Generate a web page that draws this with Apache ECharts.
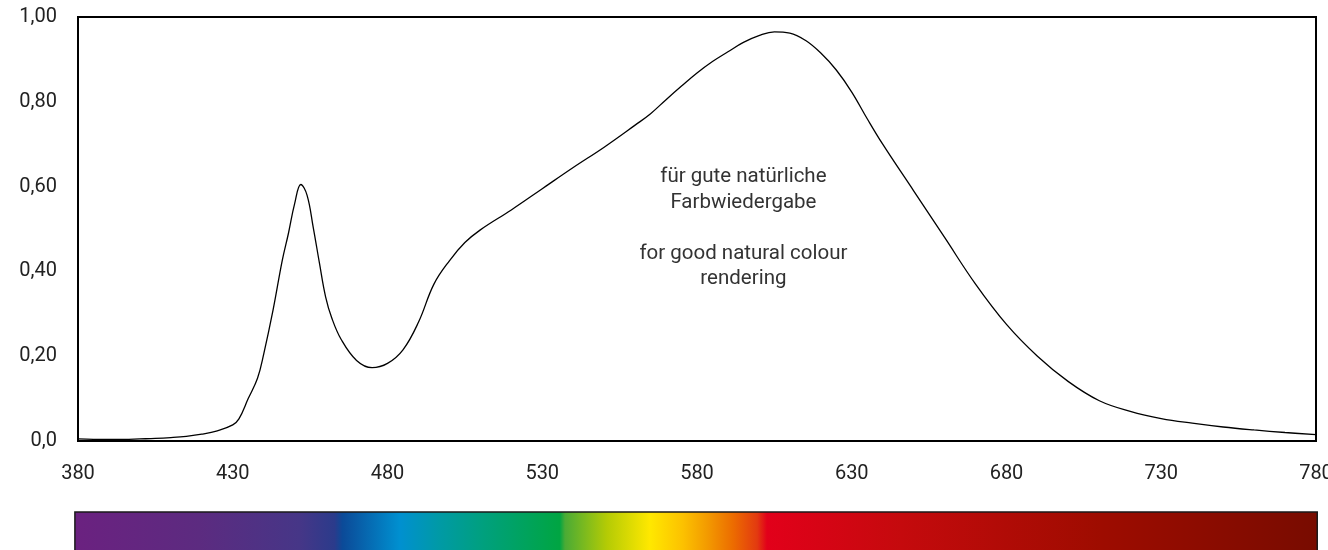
<!DOCTYPE html>
<html>
<head>
<meta charset="utf-8">
<script src="https://cdn.jsdelivr.net/npm/echarts@6/dist/echarts.min.js"></script>
<style>
  html, body { margin: 0; padding: 0; background: #fff; }
  #chart { width: 1328px; height: 550px; }
</style>
</head>
<body>
<div id="chart"></div>
<script>
// Relative spectral power distribution (wavelength in nm, relative intensity)
const wavelengths = [380, 385, 390, 395, 400, 405, 410, 415, 420, 425, 430, 432, 435, 438, 440, 443, 446, 448, 450, 452, 454, 456, 458, 460, 462, 465, 470, 475, 480, 485, 490, 495, 500, 505, 510, 520, 530, 540, 550, 560, 565, 570, 575, 580, 585, 590, 595, 600, 605, 610, 615, 620, 625, 630, 635, 640, 650, 660, 670, 680, 690, 700, 710, 720, 730, 740, 750, 760, 770, 780];
const intensity   = [0.005, 0.004, 0.004, 0.004, 0.005, 0.006, 0.008, 0.011, 0.016, 0.024, 0.038, 0.052, 0.10, 0.148, 0.205, 0.308, 0.426, 0.49, 0.56, 0.605, 0.58, 0.504, 0.42, 0.34, 0.29, 0.24, 0.19, 0.173, 0.183, 0.215, 0.28, 0.37, 0.425, 0.468, 0.498, 0.545, 0.595, 0.645, 0.693, 0.745, 0.772, 0.805, 0.837, 0.868, 0.895, 0.918, 0.94, 0.956, 0.965, 0.962, 0.945, 0.915, 0.875, 0.823, 0.76, 0.70, 0.59, 0.48, 0.37, 0.275, 0.20, 0.14, 0.095, 0.07, 0.053, 0.042, 0.033, 0.026, 0.02, 0.015];

// Colour band under the axis: wavelength (nm) -> colour
const bandWavelengths = [379, 419.4, 451.7, 463.0, 465.6, 484.0, 497.0, 510.9, 535.7, 537.4, 550.9, 564.8, 575.5, 583.2, 591.6, 599.4, 602.6, 645.6, 710.2, 780.4];
const bandColors = ['#6b2180', '#5c2b80', '#463687', '#2b3b8b', '#0b4a98', '#0090d0', '#009aa5', '#00a07e', '#00a542', '#4aab35', '#b4cb05', '#ffe800', '#fcc100', '#f39b00', '#ec6c00', '#e33a10', '#e2001a', '#c50a0d', '#9e0c00', '#780c00'];

const xTicks = { min: 380, max: 780, step: 50 };
const yTicks = { min: 0, max: 1, step: 0.2 };
const noteLines = ['für gute natürliche', 'Farbwiedergabe', '', 'for good natural colour', 'rendering'];

const FONT = 'Roboto, "Noto Sans", sans-serif';
const chart = echarts.init(document.getElementById('chart'));

const option = {
  animation: false,
  grid: {
    left: 78, right: 12, top: 17, bottom: 109,
    outerBoundsMode: 'none', containLabel: false,
    show: true, borderColor: '#000', borderWidth: 2, backgroundColor: 'transparent'
  },
  xAxis: {
    type: 'value', min: xTicks.min, max: xTicks.max, interval: xTicks.step,
    axisLine: { show: true, lineStyle: { color: '#000', width: 2 } },
    axisTick: { show: false },
    splitLine: { show: false },
    axisLabel: { color: '#222', fontSize: 20, fontFamily: FONT, margin: 23 }
  },
  yAxis: {
    type: 'value', min: yTicks.min, max: yTicks.max, interval: yTicks.step,
    axisLine: { show: true, lineStyle: { color: '#000', width: 2 } },
    axisTick: { show: false },
    splitLine: { show: false },
    axisLabel: {
      color: '#222', fontSize: 20, fontFamily: FONT, margin: 21,
      formatter: v => v === 0 ? '0,0' : v.toFixed(2).replace('.', ',')
    }
  },
  series: [{
    type: 'line',
    data: wavelengths.map((w, i) => [w, intensity[i]]),
    smooth: 0.4,
    showSymbol: false,
    lineStyle: { color: '#000', width: 1.3 }
  }]
};
chart.setOption(option);

// Spectrum band and annotation placed via the axis scales
const left = chart.convertToPixel({ gridIndex: 0 }, [bandWavelengths[0], 0])[0];
const right = chart.convertToPixel({ gridIndex: 0 }, [bandWavelengths[bandWavelengths.length - 1], 0])[0];
const span = bandWavelengths[bandWavelengths.length - 1] - bandWavelengths[0];
const stops = bandWavelengths.map((w, i) => ({ offset: (w - bandWavelengths[0]) / span, color: bandColors[i] }));
const notePos = chart.convertToPixel({ gridIndex: 0 }, [595, 0.652]);

chart.setOption({
  graphic: [
    {
      type: 'rect',
      shape: { x: left, y: 512, width: right - left, height: 50 },
      style: {
        fill: new echarts.graphic.LinearGradient(0, 0, 1, 0, stops),
        stroke: '#1a1a1a', lineWidth: 1.5
      },
      silent: true
    },
    {
      type: 'text',
      x: notePos[0], y: notePos[1],
      style: {
        text: noteLines.join('\n'),
        fill: '#333', font: '20.5px ' + FONT,
        align: 'center', verticalAlign: 'top', lineHeight: 25.4
      },
      silent: true
    }
  ]
});
</script>
</body>
</html>
